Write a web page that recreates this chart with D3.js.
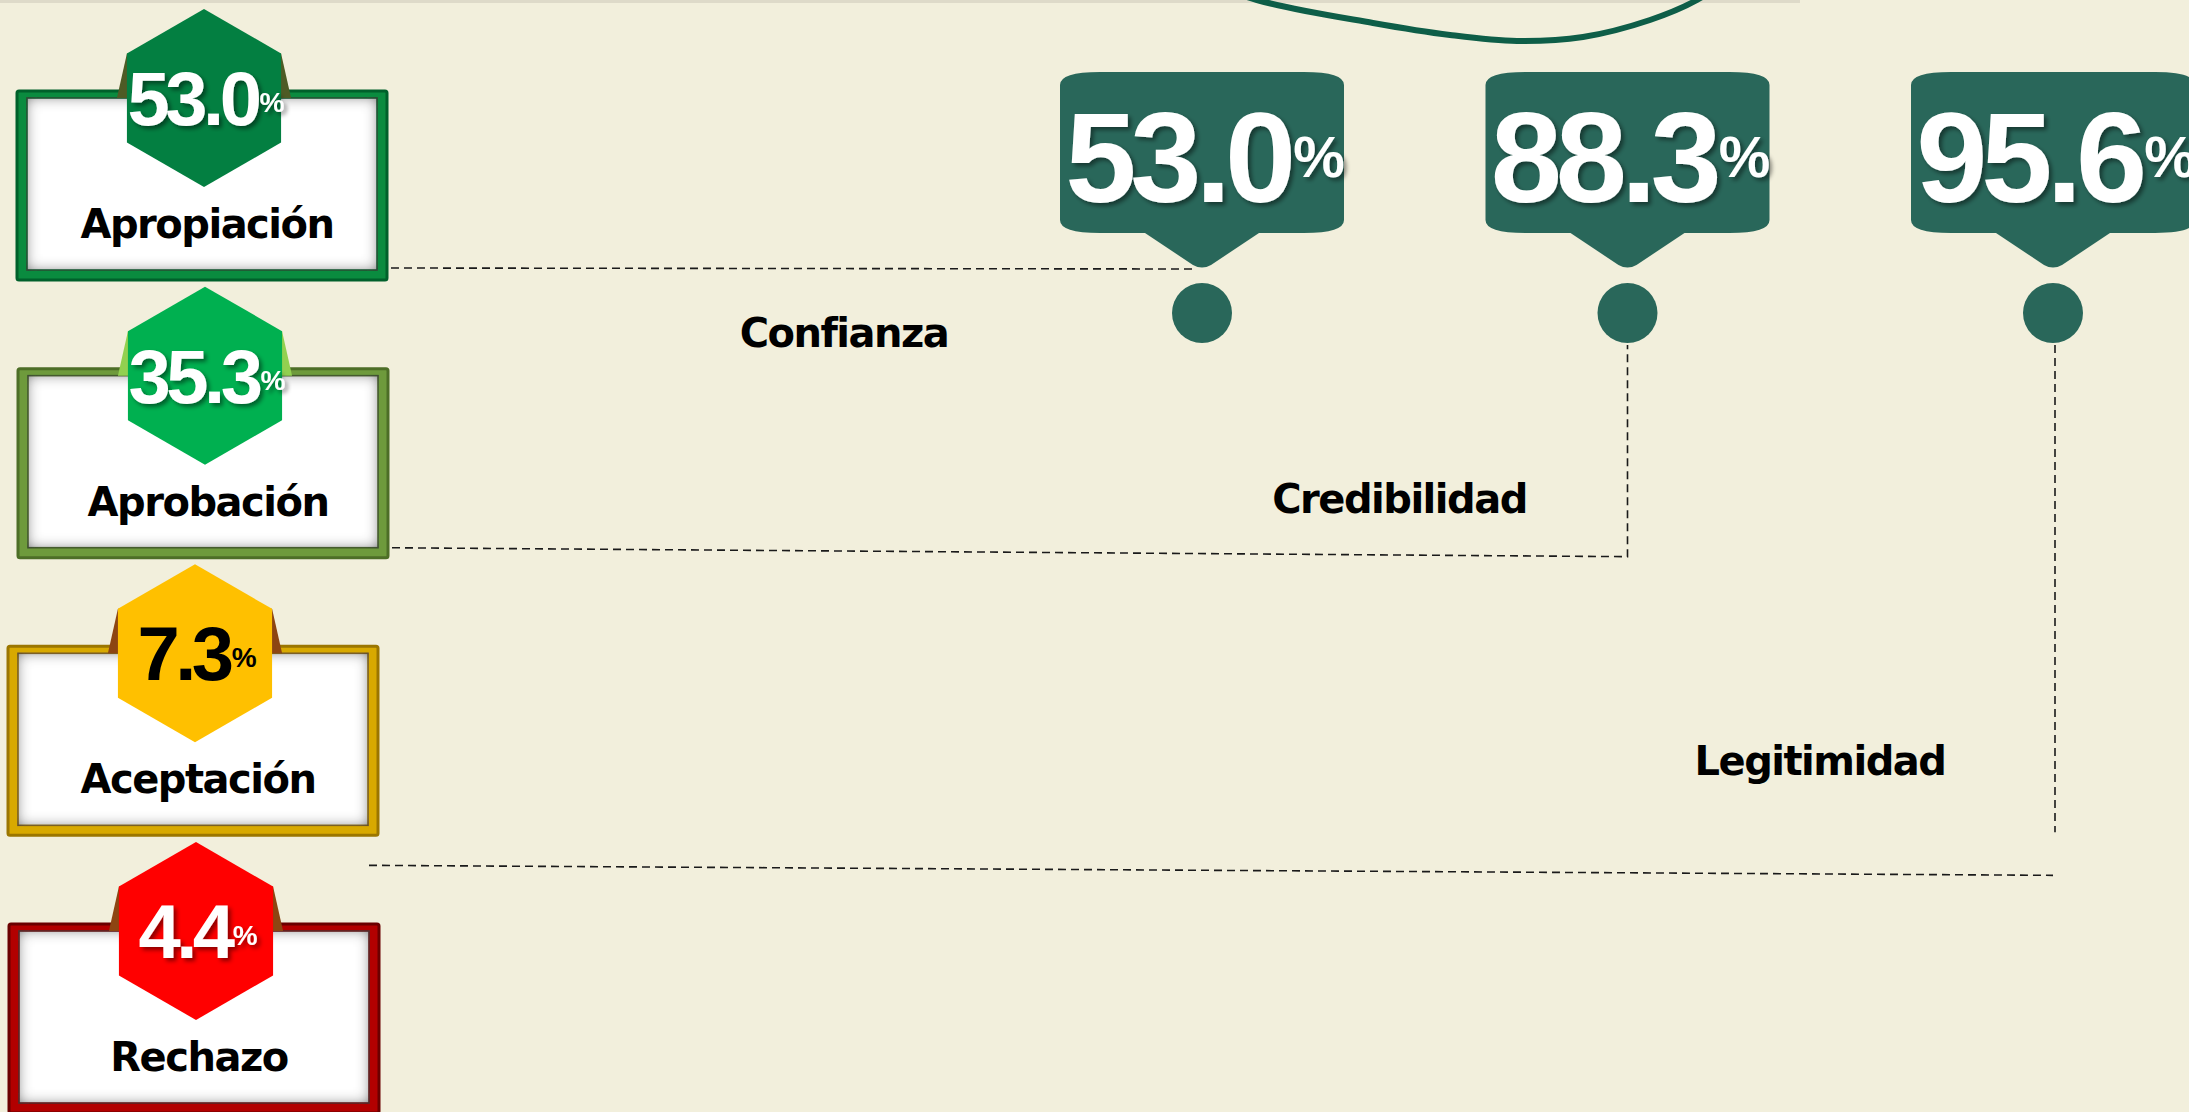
<!DOCTYPE html>
<html lang="es">
<head>
<meta charset="utf-8">
<script src="https://cdn.jsdelivr.net/npm/d3@7"></script>
<style>
  html, body { margin: 0; padding: 0; background: #f2efdc; overflow: hidden; }
  svg { display: block; }
</style>
</head>
<body>
<div id="chart"></div>
<script>
// Data
const categories = ["Apropiación", "Aprobación", "Aceptación", "Rechazo"];
const categoryValues = [53.0, 35.3, 7.3, 4.4];
const indicators = ["Confianza", "Credibilidad", "Legitimidad"];
const indicatorValues = [53.0, 88.3, 95.6];

// Styles per category
const hexColors = ["#037f41", "#00b050", "#ffc000", "#ff0000"];
const tabColors = ["#4e5b25", "#92d050", "#8d4512", "#8d4512"];
const frameColors = ["#0a8b3f", "#6e9a3c", "#d8a900", "#b20000"];
const frameEdges = ["#00602b", "#4d6e27", "#9b7600", "#6b0000"];
const numColors = ["#fff", "#fff", "#000", "#fff"];
const boxLeft = [17, 18, 8, 9];

// Label placement along the connectors
const labelDx = [-358, -228, -233];
const labelY = [347, 513, 775];

// Configuration
const width = 2189, height = 1112;
const boxW = 370, boxH = 189;
const hexR = 89;
const teal = "#29675a";
const bubbleTop = 72, bubbleBottom = 233, tipY = 269, dotY = 313, dotR = 30;

const svg = d3.select("#chart")
    .append("svg")
    .attr("width", width)
    .attr("height", height)
    .style("background-color", "#f2efdc");

const defs = svg.append("defs");

// inner shadow for the white panels
const inner = defs.append("filter").attr("id", "inner")
    .attr("x", "-10%").attr("y", "-10%").attr("width", "120%").attr("height", "120%");
inner.append("feComponentTransfer").attr("in", "SourceAlpha")
    .append("feFuncA").attr("type", "table").attr("tableValues", "1 0");
inner.append("feGaussianBlur").attr("stdDeviation", 7);
inner.append("feOffset").attr("dx", 0).attr("dy", 0).attr("result", "blur");
inner.append("feFlood").attr("flood-color", "#3a3a3a").attr("flood-opacity", 1);
inner.append("feComposite").attr("in2", "blur").attr("operator", "in");
inner.append("feComposite").attr("in2", "SourceAlpha").attr("operator", "in").attr("result", "shadow");
const im = inner.append("feMerge");
im.append("feMergeNode").attr("in", "SourceGraphic");
im.append("feMergeNode").attr("in", "shadow");

// text shadow
const ts = defs.append("filter").attr("id", "tshadow")
    .attr("x", "-10%").attr("y", "-10%").attr("width", "130%").attr("height", "130%");
ts.append("feDropShadow").attr("dx", 3).attr("dy", 3).attr("stdDeviation", 2)
    .attr("flood-color", "#000").attr("flood-opacity", 0.45);

// Scales
const y = d3.scalePoint().domain(categories).range([91, 924]);
const x = d3.scalePoint().domain(indicators).range([1202, 2053]);

// Top strip + arc decoration
svg.append("rect")
    .attr("x", 0).attr("y", 0).attr("width", 1800).attr("height", 3)
    .attr("fill", "#dedac9");

const arcPts = [[1190, -25], [1257, 0], [1373, 23], [1450, 35], [1517, 41], [1583, 37], [1650, 20], [1697, 0], [1725, -20]];
svg.append("path")
    .attr("d", d3.line().curve(d3.curveCatmullRom)(arcPts))
    .attr("fill", "none")
    .attr("stroke", "#0e5e48")
    .attr("stroke-width", 6);

// Dashed connectors
const dash = "8,5";
const connectors = [
    [[boxLeft[0] + boxW - 9, y(categories[0]) + boxH - 12], [x(indicators[0]) - 6, tipY]],
    [[boxLeft[1] + boxW - 9, y(categories[1]) + boxH - 10], [x(indicators[1]), y(categories[1]) + boxH - 1], [x(indicators[1]), dotY + dotR + 2]],
    [[boxLeft[2] + boxW - 9, y(categories[2]) + boxH + 30], [x(indicators[2]), y(categories[2]) + boxH + 40]],
    [[x(indicators[2]) + 2, dotY + dotR + 2], [x(indicators[2]) + 2, y(categories[2]) + boxH - 3]]
];
svg.selectAll(".connector")
    .data(connectors)
    .enter()
    .append("path")
    .attr("class", "connector")
    .attr("d", d3.line())
    .attr("fill", "none")
    .attr("stroke", "#1a1a1a")
    .attr("stroke-width", 1.6)
    .attr("stroke-dasharray", dash);

// Indicator labels
svg.selectAll(".ind-label")
    .data(indicators)
    .enter()
    .append("text")
    .attr("class", "ind-label")
    .attr("x", (d, i) => x(d) + labelDx[i])
    .attr("y", (d, i) => labelY[i])
    .attr("text-anchor", "middle")
    .attr("font-family", "DejaVu Sans, Verdana, sans-serif")
    .attr("font-weight", "bold")
    .attr("font-size", 40)
    .attr("letter-spacing", "-1.5px")
    .attr("fill", "#000")
    .text(d => d);

// Callout bubbles
function bubble(cx) {
    const l = cx - 142, r = cx + 142, t = bubbleTop, b = bubbleBottom, rx = 40, ry = 13;
    const p = d3.path();
    p.moveTo(l + rx, t);
    p.lineTo(r - rx, t);
    p.quadraticCurveTo(r, t, r, t + ry);
    p.lineTo(r, b - ry);
    p.quadraticCurveTo(r, b, r - rx, b);
    p.lineTo(cx + 57, b);
    p.lineTo(cx + 9, tipY - 4);
    p.quadraticCurveTo(cx, tipY + 1, cx - 9, tipY - 4);
    p.lineTo(cx - 57, b);
    p.lineTo(l + rx, b);
    p.quadraticCurveTo(l, b, l, b - ry);
    p.lineTo(l, t + ry);
    p.quadraticCurveTo(l, t, l + rx, t);
    p.closePath();
    return p.toString();
}

const callouts = svg.selectAll(".callout")
    .data(indicators)
    .enter()
    .append("g")
    .attr("class", "callout");

callouts.append("path")
    .attr("d", d => bubble(x(d)))
    .attr("fill", teal);

callouts.append("circle")
    .attr("cx", d => x(d))
    .attr("cy", dotY)
    .attr("r", dotR)
    .attr("fill", teal);

const calloutText = callouts.append("text")
    .attr("x", d => x(d) + 3)
    .attr("y", 202)
    .attr("text-anchor", "middle")
    .attr("font-family", "Liberation Sans, Arial, sans-serif")
    .attr("font-weight", "bold")
    .attr("fill", "#fff")
    .attr("filter", "url(#tshadow)");
calloutText.append("tspan")
    .attr("font-size", 128)
    .attr("letter-spacing", "-6px")
    .text((d, i) => indicatorValues[i].toFixed(1));
calloutText.append("tspan")
    .attr("font-size", 58)
    .attr("dx", 3)
    .attr("dy", -25)
    .text("%");

// Category boxes
const boxes = svg.selectAll(".box")
    .data(categories)
    .enter()
    .append("g")
    .attr("class", "box");

boxes.append("rect")
    .attr("x", (d, i) => boxLeft[i])
    .attr("y", d => y(d))
    .attr("width", boxW)
    .attr("height", boxH)
    .attr("rx", 2)
    .attr("fill", (d, i) => frameColors[i])
    .attr("stroke", (d, i) => frameEdges[i])
    .attr("stroke-width", 3);

boxes.append("rect")
    .attr("x", (d, i) => boxLeft[i] + 10)
    .attr("y", d => y(d) + 7)
    .attr("width", boxW - 20)
    .attr("height", boxH - 17)
    .attr("fill", "#fff")
    .attr("stroke", (d, i) => frameEdges[i])
    .attr("stroke-width", 1.5)
    .attr("filter", "url(#inner)");

const hexCx = (i) => boxLeft[i] + boxW / 2 + 2;
const hexCy = (d) => y(d) + 7;
const hw = hexR * Math.sqrt(3) / 2;

// dark tabs behind the hexagon
boxes.append("polygon")
    .attr("points", (d, i) => {
        const cx = hexCx(i), cy = hexCy(d);
        return [[cx - hw, cy - hexR / 2], [cx + hw, cy - hexR / 2],
                [cx + hw + 10, y(d) + 7], [cx - hw - 10, y(d) + 7]].join(" ");
    })
    .attr("fill", (d, i) => tabColors[i]);

boxes.append("polygon")
    .attr("points", (d, i) => {
        const cx = hexCx(i), cy = hexCy(d);
        return d3.range(6).map(k => {
            const a = (-90 + 60 * k) * Math.PI / 180;
            return [cx + hexR * Math.cos(a), cy + hexR * Math.sin(a)];
        }).join(" ");
    })
    .attr("fill", (d, i) => hexColors[i]);

const hexText = boxes.append("text")
    .attr("x", (d, i) => hexCx(i) + 2)
    .attr("y", d => hexCy(d) + 27)
    .attr("text-anchor", "middle")
    .attr("font-family", "Liberation Sans, Arial, sans-serif")
    .attr("font-weight", "bold")
    .attr("fill", (d, i) => numColors[i])
    .attr("filter", (d, i) => numColors[i] === "#fff" ? "url(#tshadow)" : null);
hexText.append("tspan")
    .attr("font-size", 76)
    .attr("letter-spacing", "-4.5px")
    .text((d, i) => categoryValues[i].toFixed(1));
hexText.append("tspan")
    .attr("font-size", 28)
    .attr("dx", 2)
    .attr("dy", -13)
    .text("%");

boxes.append("text")
    .attr("x", (d, i) => hexCx(i) + 3)
    .attr("y", d => y(d) + 147)
    .attr("text-anchor", "middle")
    .attr("font-family", "DejaVu Sans, Verdana, sans-serif")
    .attr("font-weight", "bold")
    .attr("font-size", 40)
    .attr("letter-spacing", "-1.5px")
    .attr("fill", "#000")
    .text(d => d);
</script>
</body>
</html>
